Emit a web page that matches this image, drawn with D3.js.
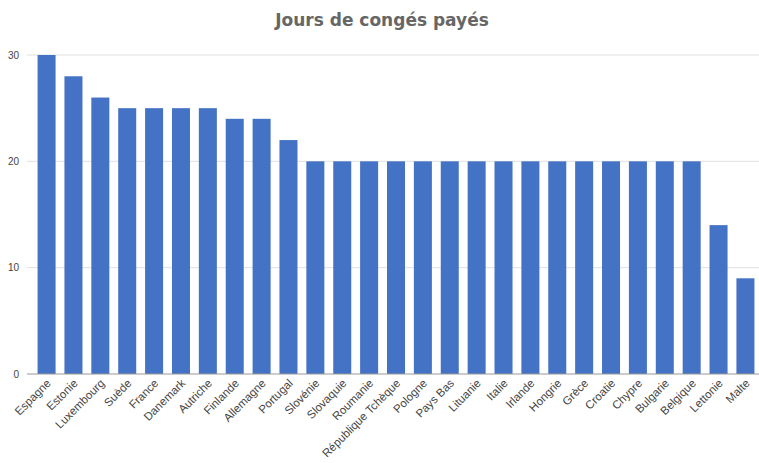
<!DOCTYPE html>
<html>
<head>
<meta charset="utf-8">
<script src="https://cdn.jsdelivr.net/npm/d3@7"></script>
<style>
  body { margin: 0; background: #fff; }
  svg { font-family: Arial, "Liberation Sans", sans-serif; }
</style>
</head>
<body>
<svg width="759" height="463"></svg>
<script>
var pays = ["Espagne", "Estonie", "Luxembourg", "Suède", "France", "Danemark", "Autriche",
  "Finlande", "Allemagne", "Portugal", "Slovénie", "Slovaquie", "Roumanie", "République Tchèque",
  "Pologne", "Pays Bas", "Lituanie", "Italie", "Irlande", "Hongrie", "Grèce", "Croatie",
  "Chypre", "Bulgarie", "Belgique", "Lettonie", "Malte"];
var jours = [30, 28, 26, 25, 25, 25, 25, 24, 24, 22, 20, 20, 20, 20, 20, 20, 20, 20, 20, 20,
  20, 20, 20, 20, 20, 14, 9];
var yTicks = [0, 10, 20, 30];

var svg = d3.select("svg"),
    margin = {top: 55, right: 0, bottom: 89, left: 33},
    width = +svg.attr("width") - margin.left - margin.right,
    height = +svg.attr("height") - margin.top - margin.bottom,
    g = svg.append("g").attr("transform", "translate(" + margin.left + "," + margin.top + ")");

svg.append("text")
    .attr("x", 382)
    .attr("y", 26)
    .attr("text-anchor", "middle")
    .attr("font-family", "'DejaVu Sans', sans-serif")
    .attr("font-size", 17)
    .attr("font-weight", "bold")
    .attr("fill", "#666")
    .text("Jours de congés payés");

var x = d3.scaleBand()
    .domain(pays)
    .range([0, width])
    .paddingInner(0.33)
    .paddingOuter(0.17);

var y = d3.scaleLinear()
    .domain([0, 30])
    .range([height, 0]);

// grille
g.append("g")
    .selectAll("line")
    .data(yTicks.slice(1))
    .enter().append("line")
    .attr("x1", -6)
    .attr("x2", width)
    .attr("y1", function(d) { return y(d); })
    .attr("y2", function(d) { return y(d); })
    .attr("stroke", "#e0e0e0");

g.append("g")
    .selectAll("text")
    .data(yTicks)
    .enter().append("text")
    .attr("x", -14)
    .attr("y", function(d) { return y(d); })
    .attr("dy", "0.35em")
    .attr("text-anchor", "end")
    .attr("font-size", 10)
    .attr("fill", "#444")
    .text(function(d) { return d; });

g.selectAll(".bar")
    .data(jours)
    .enter().append("rect")
    .attr("class", "bar")
    .attr("x", function(d, i) { return x(pays[i]); })
    .attr("width", x.bandwidth())
    .attr("y", function(d) { return y(d); })
    .attr("height", function(d) { return height - y(d); })
    .attr("fill", "#4472c4");

g.append("line")
    .attr("x1", -6)
    .attr("x2", width)
    .attr("y1", height)
    .attr("y2", height)
    .attr("stroke", "#999");

g.append("g")
    .selectAll("text")
    .data(pays)
    .enter().append("text")
    .attr("transform", function(d) {
      return "translate(" + (x(d) + x.bandwidth() / 2 + 5) + "," + (height + 10) + ") rotate(-45)";
    })
    .attr("text-anchor", "end")
    .attr("font-size", 11.5)
    .attr("fill", "#444")
    .text(function(d) { return d; });
</script>
</body>
</html>
